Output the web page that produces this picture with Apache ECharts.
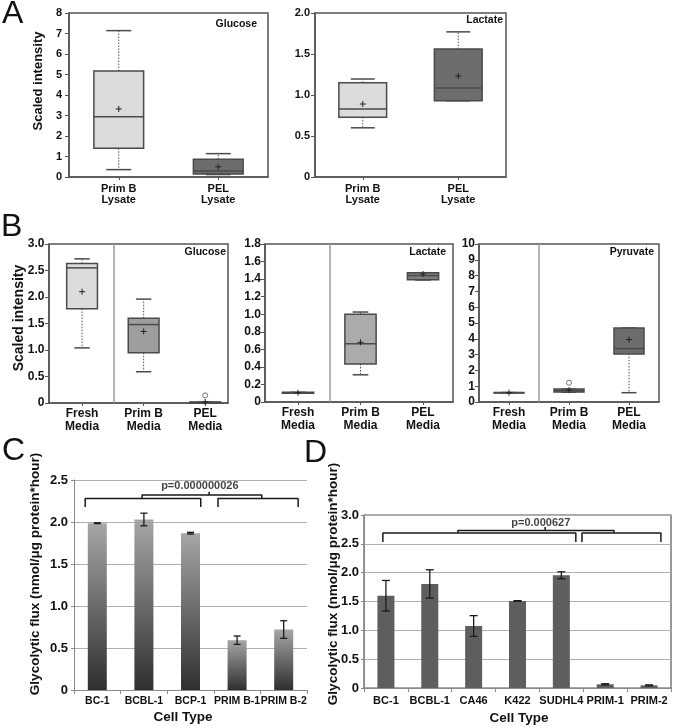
<!DOCTYPE html>
<html><head><meta charset="utf-8">
<script src="https://cdn.jsdelivr.net/npm/echarts@6/dist/echarts.min.js"></script>
<style>html,body{margin:0;padding:0;background:#fff}#c{width:674px;height:728px}</style>
</head><body><div id="c"></div>
<script>
// ---------- DATA ----------
// Box data rows: [x, min, q1, median, q3, max, mean]
const aCats = ['Prim B\nLysate', 'PEL\nLysate'];
const aGlucose = [[1, 0.36, 1.40, 2.94, 5.17, 7.14, 3.32], [2, 0.12, 0.15, 0.29, 0.86, 1.14, 0.50]];
const aLactate = [[1, 0.60, 0.73, 0.83, 1.15, 1.195, 0.89], [2, 0.93, 0.93, 1.085, 1.56, 1.77, 1.23]];

const bCats = ['Fresh\nMedia', 'Prim B\nMedia', 'PEL\nMedia'];
const bGlucose = [[1, 1.04, 1.78, 2.55, 2.63, 2.72, 2.10], [2, 0.59, 0.95, 1.48, 1.60, 1.96, 1.35], [3, 0.0, 0.0, 0.01, 0.02, 0.02, 0.02]];
const bGlucoseOutliers = [[3, 0.145]];
const bLactate = [[1, 0.10, 0.10, 0.105, 0.11, 0.11, 0.106], [2, 0.31, 0.433, 0.665, 1.0, 1.025, 0.68], [3, 1.39, 1.394, 1.44, 1.473, 1.473, 1.458]];
const bPyruvate = [[1, 0.58, 0.58, 0.59, 0.60, 0.60, 0.59], [2, 0.62, 0.63, 0.72, 0.82, 0.82, 0.75], [3, 0.59, 3.04, 3.38, 4.68, 4.68, 3.95]];
const bPyruvateOutliers = [[2, 1.22]];

const cCats = ['BC-1', 'BCBL-1', 'BCP-1', 'PRIM B-1', 'PRIM B-2'];
const cValues = [1.986, 2.03, 1.867, 0.593, 0.72];
const cErrors = [0.005, 0.075, 0.01, 0.05, 0.105];
const cPText = 'p=0.000000026';

const dCats = ['BC-1', 'BCBL-1', 'CA46', 'K422', 'SUDHL4', 'PRIM-1', 'PRIM-2'];
const dValues = [1.60, 1.805, 1.075, 1.51, 1.955, 0.064, 0.046];
const dErrors = [0.265, 0.245, 0.18, 0.005, 0.06, 0.01, 0.008];
const dPText = 'p=0.000627';

// significance brackets (category-index x, value y)
const cBrackets = [
  [[-0.26, 2.18], [-0.26, 2.28], [2.22, 2.28], [2.22, 2.18]],
  [[2.59, 2.18], [2.59, 2.28], [4.31, 2.28], [4.31, 2.18]],
  [[0.96, 2.28], [0.96, 2.32], [3.53, 2.32], [3.53, 2.28]],
  [[2.4, 2.32], [2.4, 2.36]]
];
const cPPos = [2.2, 2.43];
const dBrackets = [
  [[-0.07, 2.53], [-0.07, 2.69], [4.33, 2.69], [4.33, 2.53]],
  [[4.47, 2.53], [4.47, 2.69], [6.27, 2.69], [6.27, 2.53]],
  [[1.64, 2.69], [1.64, 2.73], [5.2, 2.73], [5.2, 2.69]],
  [[3.63, 2.73], [3.63, 2.79]]
];
const dPPos = [3.53, 2.87];

// ---------- STYLE ----------
const FONT = '"Liberation Sans", Arial, Helvetica, sans-serif';
const FRAME = '#555';
const TXT = '#111';
const LIGHT = '#dcdcdc', DARK = '#6d6d6d';

function fmt1(v) { return v === 0 ? '0' : v.toFixed(1); }
function fmt0(v) { return String(Math.round(v)); }

function boxGrid(left, top, width, height) {
  return { left, top, width, height, show: true, borderColor: FRAME, borderWidth: 1.5, containLabel: false };
}
function boxX(gi, min, max, cats, fontSize, lineHeight, margin) {
  const vals = cats.map((c, i) => i + 1);
  return {
    type: 'value', gridIndex: gi, min, max,
    splitLine: { show: false },
    axisLine: { show: true, onZero: false, lineStyle: { color: FRAME, width: 1.5 } },
    axisTick: { show: true, customValues: vals, length: 3, lineStyle: { color: FRAME } },
    axisLabel: { customValues: vals, formatter: v => cats[Math.round(v) - 1], fontSize, fontWeight: 'bold', lineHeight, margin, color: TXT, fontFamily: FONT }
  };
}
function boxY(gi, max, interval, fmt, fontSize, margin) {
  return {
    type: 'value', gridIndex: gi, min: 0, max, interval,
    splitLine: { show: false },
    axisLine: { show: true, onZero: false, lineStyle: { color: FRAME, width: 1.5 } },
    axisTick: { show: true, length: 4, lineStyle: { color: FRAME } },
    axisLabel: { formatter: fmt, fontSize, fontWeight: 'bold', margin, color: TXT, fontFamily: FONT }
  };
}
function boxRender(colors) {
  return function (params, api) {
    const x = api.value(0);
    const c = v => api.coord([x, v]);
    const pMin = c(api.value(1)), pQ1 = c(api.value(2)), pMed = c(api.value(3)),
      pQ3 = c(api.value(4)), pMax = c(api.value(5)), pMean = c(api.value(6));
    const w = api.size([0.5, 0])[0];
    const cx = pMed[0], hw = w / 2, cw = w / 4;
    const stroke = '#4a4a4a';
    const dot = { stroke: '#555', lineWidth: 1, lineDash: [1.5, 1.5] };
    const solid = { stroke, lineWidth: 1.5 };
    return {
      type: 'group', children: [
        { type: 'line', shape: { x1: cx, y1: pQ3[1], x2: cx, y2: pMax[1] }, style: dot },
        { type: 'line', shape: { x1: cx, y1: pQ1[1], x2: cx, y2: pMin[1] }, style: dot },
        { type: 'line', shape: { x1: cx - cw, y1: pMax[1], x2: cx + cw, y2: pMax[1] }, style: solid },
        { type: 'line', shape: { x1: cx - cw, y1: pMin[1], x2: cx + cw, y2: pMin[1] }, style: solid },
        { type: 'rect', shape: { x: cx - hw, y: pQ3[1], width: w, height: Math.max(pQ1[1] - pQ3[1], 0.5) }, style: { fill: colors[params.dataIndex], stroke, lineWidth: 1.5 } },
        { type: 'line', shape: { x1: cx - hw, y1: pMed[1], x2: cx + hw, y2: pMed[1] }, style: solid },
        { type: 'line', shape: { x1: cx - 3, y1: pMean[1], x2: cx + 3, y2: pMean[1] }, style: { stroke: '#222', lineWidth: 1 } },
        { type: 'line', shape: { x1: cx, y1: pMean[1] - 3, x2: cx, y2: pMean[1] + 3 }, style: { stroke: '#222', lineWidth: 1 } }
      ]
    };
  };
}
function boxSeries(gi, data, colors, sepX) {
  const s = {
    type: 'custom', xAxisIndex: gi, yAxisIndex: gi, data,
    encode: { x: 0, y: [1, 2, 3, 4, 5, 6] },
    renderItem: boxRender(colors), silent: true, clip: false
  };
  if (sepX != null) {
    s.markLine = { silent: true, symbol: 'none', label: { show: false }, lineStyle: { color: '#9a9a9a', type: 'solid', width: 1.5 }, data: [{ xAxis: sepX }] };
  }
  return s;
}
function outlierSeries(gi, data) {
  return { type: 'scatter', xAxisIndex: gi, yAxisIndex: gi, data, symbol: 'circle', symbolSize: 5, itemStyle: { color: '#fff', borderColor: '#555', borderWidth: 1 }, silent: true };
}
function errRender(capHalf) {
  return function (params, api) {
    const x = api.value(0), v = api.value(1), e = api.value(2);
    const top = api.coord([x, v + e]), bot = api.coord([x, v - e]);
    const st = { stroke: '#1a1a1a', lineWidth: 1.3 };
    return {
      type: 'group', children: [
        { type: 'line', shape: { x1: top[0], y1: top[1], x2: bot[0], y2: bot[1] }, style: st },
        { type: 'line', shape: { x1: top[0] - capHalf, y1: top[1], x2: top[0] + capHalf, y2: top[1] }, style: st },
        { type: 'line', shape: { x1: bot[0] - capHalf, y1: bot[1], x2: bot[0] + capHalf, y2: bot[1] }, style: st }
      ]
    };
  };
}
function bracketSeries(xi, yi, list) {
  return list.map(pts => ({
    type: 'line', xAxisIndex: xi, yAxisIndex: yi, data: pts, symbol: 'none', silent: true,
    lineStyle: { color: '#1a1a1a', width: 1.5 }, z: 5, animation: false
  }));
}
function pSeries(xi, yi, pos, text) {
  return {
    type: 'scatter', xAxisIndex: xi, yAxisIndex: yi, data: [pos], symbolSize: 1, itemStyle: { color: 'rgba(0,0,0,0)' }, silent: true,
    label: { show: true, position: 'inside', formatter: () => text, fontSize: 11, fontWeight: 'bold', color: TXT, fontFamily: FONT }
  };
}
function barX(gi, cats, margin, fontSize) {
  return {
    type: 'category', gridIndex: gi, data: cats,
    axisLine: { show: true, onZero: false, lineStyle: { color: '#8a8a8a', width: 1 } },
    axisTick: { show: true, alignWithLabel: false, length: 4, lineStyle: { color: '#8a8a8a' } },
    axisLabel: { interval: 0, fontSize, fontWeight: 'bold', margin, color: TXT, fontFamily: FONT }
  };
}
function barY(gi, max, margin) {
  return {
    type: 'value', gridIndex: gi, min: 0, max, interval: 0.5,
    splitLine: { show: true, lineStyle: { color: '#b0b0b0', width: 1 } },
    axisLine: { show: true, onZero: false, lineStyle: { color: '#8a8a8a', width: 1 } },
    axisTick: { show: true, length: 3, lineStyle: { color: '#8a8a8a' } },
    axisLabel: { formatter: fmt1, fontSize: 13, fontWeight: 'bold', margin, color: TXT, fontFamily: FONT }
  };
}

function txt(x, y, text, size, opts) {
  return Object.assign({
    type: 'text', x, y, silent: true,
    style: { text, fontSize: size, fontWeight: 'bold', fontFamily: FONT, fill: TXT, align: 'center', verticalAlign: 'middle' }
  }, opts || {});
}
function txtR(x, y, text, size) { const t = txt(x, y, text, size); t.style.align = 'right'; return t; }
function letter(x, y, text) { const t = txt(x, y, text, 32); t.style.align = 'left'; t.style.fontWeight = 'normal'; return t; }
function vtxt(x, y, text, size) { return txt(x, y, text, size, { rotation: Math.PI / 2 }); }

const option = {
  animation: false,
  backgroundColor: '#fff',
  grid: [
    boxGrid(69, 13, 199, 164),
    boxGrid(315, 13, 191, 164),
    boxGrid(49, 244, 179, 159),
    boxGrid(265, 244, 188, 158),
    boxGrid(479, 244, 180, 158),
    { left: 74, top: 480, width: 233, height: 210, show: false },
    { left: 364, top: 515, width: 307, height: 173, show: true, borderColor: '#555', borderWidth: 1.2 }
  ],
  xAxis: [
    boxX(0, 0.5, 2.5, aCats, 11, 11, 6),
    boxX(1, 0.5, 2.5, aCats, 11, 11, 6),
    boxX(2, 0.463, 3.37, bCats, 12, 13, 4),
    boxX(3, 0.472, 3.48, bCats, 12, 13, 4),
    boxX(4, 0.5, 3.5, bCats, 12, 13, 4),
    barX(5, cCats, 6, 10.5),
    barX(6, dCats, 7, 11),
    { type: 'value', gridIndex: 5, min: -0.5, max: cCats.length - 0.5, show: false },
    { type: 'value', gridIndex: 6, min: -0.5, max: dCats.length - 0.5, show: false }
  ],
  yAxis: [
    boxY(0, 8, 1, fmt0, 11, 7),
    boxY(1, 2, 0.5, fmt1, 11, 5),
    boxY(2, 3, 0.5, fmt1, 12, 4.5),
    boxY(3, 1.8, 0.2, fmt1, 12, 4),
    boxY(4, 10, 1, fmt0, 12, 4),
    barY(5, 2.5, 6),
    barY(6, 3, 5)
  ],
  series: [
    boxSeries(0, aGlucose, [LIGHT, DARK]),
    boxSeries(1, aLactate, [LIGHT, DARK]),
    boxSeries(2, bGlucose, [LIGHT, '#9e9e9e', DARK], 1.518),
    outlierSeries(2, bGlucoseOutliers),
    boxSeries(3, bLactate, [LIGHT, '#ababab', '#7d7d7d'], 1.496),
    boxSeries(4, bPyruvate, [LIGHT, '#8a8a8a', DARK], 1.5),
    outlierSeries(4, bPyruvateOutliers),
    {
      type: 'bar', xAxisIndex: 5, yAxisIndex: 5, data: cValues, barWidth: 19,
      itemStyle: { color: new echarts.graphic.LinearGradient(0, 0, 0, 1, [{ offset: 0, color: '#a6a6a6' }, { offset: 1, color: '#2f2f2f' }]) }
    },
    {
      type: 'custom', xAxisIndex: 7, yAxisIndex: 5, data: cValues.map((v, i) => [i, v, cErrors[i]]),
      encode: { x: 0, y: 1 }, renderItem: errRender(3.5), z: 4, silent: true
    },
    ...bracketSeries(7, 5, cBrackets),
    pSeries(7, 5, cPPos, cPText),
    {
      type: 'bar', xAxisIndex: 6, yAxisIndex: 6, data: dValues, barWidth: 17,
      itemStyle: { color: '#5e5e5e' }
    },
    {
      type: 'custom', xAxisIndex: 8, yAxisIndex: 6, data: dValues.map((v, i) => [i, v, dErrors[i]]),
      encode: { x: 0, y: 1 }, renderItem: errRender(4), z: 4, silent: true
    },
    ...bracketSeries(8, 6, dBrackets),
    pSeries(8, 6, dPPos, dPText)
  ],
  graphic: [
    letter(2, 14, 'A'),
    letter(1, 227, 'B'),
    letter(2, 451, 'C'),
    letter(304, 453, 'D'),
    vtxt(38, 81, 'Scaled intensity', 13),
    vtxt(19, 318, 'Scaled intensity', 14),
    vtxt(35, 574, 'Glycolytic flux (nmol/\u03bcg protein*hour)', 13.5),
    vtxt(333, 584, 'Glycolytic flux (nmol/\u03bcg protein*hour)', 13.5),
    txtR(257, 24, 'Glucose', 10.5),
    txtR(503, 20, 'Lactate', 10.5),
    txtR(226, 252, 'Glucose', 10.5),
    txtR(446, 252, 'Lactate', 10.5),
    txtR(654, 252, 'Pyruvate', 10.5),
    txt(183, 717, 'Cell Type', 13.5),
    txt(519, 718, 'Cell Type', 13.5)
  ]
};
const chart = echarts.init(document.getElementById('c'), null, { renderer: 'canvas' });
chart.setOption(option);
</script>
</body></html>
